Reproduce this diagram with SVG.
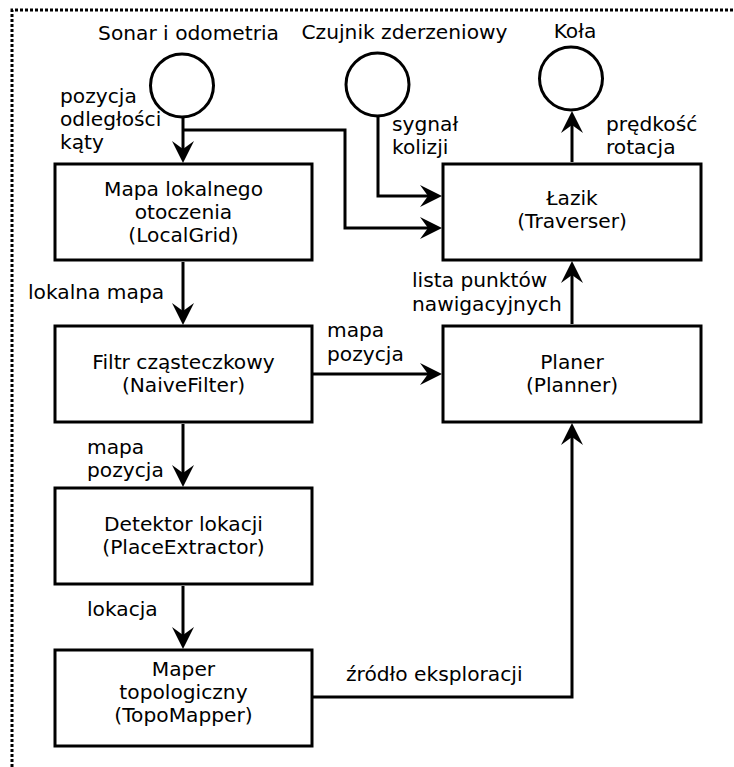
<svg xmlns="http://www.w3.org/2000/svg" width="734" height="767" viewBox="0 0 734 767">
<style>
text{font-family:"DejaVu Sans","Liberation Sans",sans-serif;font-size:20.2px;fill:#000}
.c{text-anchor:middle}
.box{fill:#fff;stroke:#000;stroke-width:3}
.ell{fill:#fff;stroke:#000;stroke-width:3}
.con{fill:none;stroke:#000;stroke-width:3;marker-end:url(#ah)}
.frame{fill:none;stroke:#000;stroke-width:3;stroke-dasharray:3 2}
</style>
<defs>
<marker id="ah" markerUnits="userSpaceOnUse" viewBox="0 0 22 22" refX="14" refY="11" markerWidth="22" markerHeight="22" orient="auto">
<path d="M0,0 L22,11 L0,22 L8,11 Z" fill="#000"/>
</marker>
</defs>
<path class="frame" d="M12,767 V10 H734"/>
<g id="sonar">
<circle class="ell" cx="182" cy="85.5" r="31.5"/>
<text class="c" x="188.5" y="40">Sonar i odometria</text>
</g>
<g id="czujnik">
<circle class="ell" cx="377.5" cy="84.5" r="31.5"/>
<text class="c" x="404.5" y="39">Czujnik zderzeniowy</text>
</g>
<g id="kola">
<circle class="ell" cx="571" cy="78.5" r="31.5"/>
<text class="c" x="575" y="38">Koła</text>
</g>
<g id="mapa">
<rect class="box" x="55" y="164" width="257" height="96"/>
<text class="c" x="183.5" y="196">Mapa lokalnego</text>
<text class="c" x="183.5" y="219">otoczenia</text>
<text class="c" x="183.5" y="242">(LocalGrid)</text>
</g>
<g id="filtr">
<rect class="box" x="55" y="326" width="257" height="96"/>
<text class="c" x="183.5" y="368.5">Filtr cząsteczkowy</text>
<text class="c" x="183.5" y="391.5">(NaiveFilter)</text>
</g>
<g id="detektor">
<rect class="box" x="55" y="488" width="257" height="96"/>
<text class="c" x="183.5" y="530.5">Detektor lokacji</text>
<text class="c" x="183.5" y="553.5">(PlaceExtractor)</text>
</g>
<g id="maper">
<rect class="box" x="55" y="650" width="257" height="96"/>
<text class="c" x="183.5" y="676">Maper</text>
<text class="c" x="183.5" y="699">topologiczny</text>
<text class="c" x="183.5" y="722">(TopoMapper)</text>
</g>
<g id="lazik">
<rect class="box" x="443" y="164" width="258" height="96"/>
<text class="c" x="572" y="205">Łazik</text>
<text class="c" x="572" y="228">(Traverser)</text>
</g>
<g id="planer">
<rect class="box" x="443" y="326" width="258" height="96"/>
<text class="c" x="572" y="368.5">Planer</text>
<text class="c" x="572" y="391.5">(Planner)</text>
</g>
<g id="connectors">
<path class="con" d="M183,117 V155"/>
<path class="con" d="M183,130 H345 V228 H434"/>
<path class="con" d="M378,116 V196 H434"/>
<path class="con" d="M572,162 V119"/>
<path class="con" d="M183,262 V317"/>
<path class="con" d="M313,374 H434"/>
<path class="con" d="M183,424 V479"/>
<path class="con" d="M183,586 V641"/>
<path class="con" d="M572,324 V269"/>
<path class="con" d="M313,697 H572 V431"/>
<text x="60" y="103">pozycja</text>
<text x="60" y="126">odległości</text>
<text x="60" y="149">kąty</text>
<text x="392" y="131">sygnał</text>
<text x="392" y="154">kolizji</text>
<text x="606" y="131">prędkość</text>
<text x="606" y="154">rotacja</text>
<text x="28" y="299">lokalna mapa</text>
<text x="412" y="287">lista punktów</text>
<text x="412" y="311">nawigacyjnych</text>
<text x="327" y="337">mapa</text>
<text x="327" y="361">pozycja</text>
<text x="87" y="454">mapa</text>
<text x="87" y="477">pozycja</text>
<text x="87" y="616">lokacja</text>
<text x="346" y="681">źródło eksploracji</text>
</g>
</svg>
